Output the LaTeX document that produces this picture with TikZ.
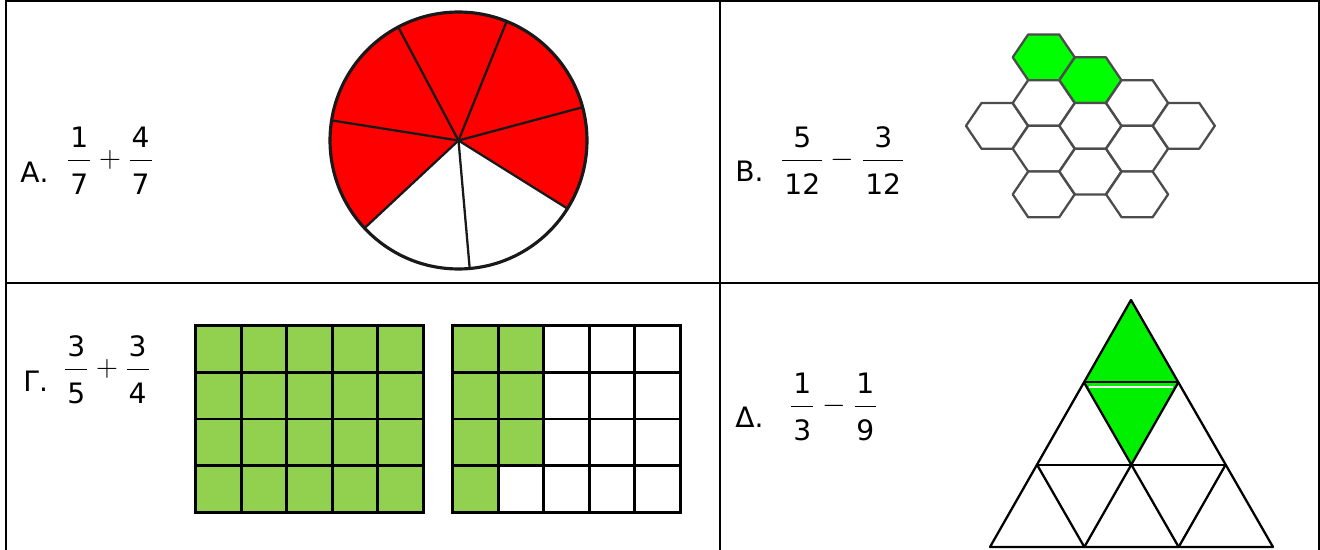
\documentclass[tikz,border=0pt]{standalone}
\usepackage{amsmath}
\usepackage{fontspec}
\setmainfont{DejaVu Sans}
\usetikzlibrary{calc}

% fraction with a thicker bar and a slightly lowered denominator
\newcommand\frc[3][1.1pt]{\genfrac{}{}{1pt}{0}{\hbox{\kern#1#2\kern#1}}{\raisebox{-3.5pt}{\kern#1#3\kern#1}}}

\definecolor{sectorred}{HTML}{FF0000}
\definecolor{hexgreen}{HTML}{00FF00}
\definecolor{squaregreen}{HTML}{92D050}
\definecolor{rhombgreen}{HTML}{00F000}

\begin{document}
\begin{tikzpicture}[
  x=0.02cm, y=-0.02cm,
  font=\fontsize{16}{19}\selectfont,
  itemlabel/.style={inner sep=0pt, anchor=base west},
  expr/.style={inner sep=0pt, anchor=base west},
  cellline/.style={line width=1.2pt, black},
  rimline/.style={line width=1.8pt, black!90},
  rayline/.style={line width=1.3pt, black!90},
  hexline/.style={line width=1.3pt, black!70, line join=round},
  squareline/.style={line width=1.6pt, black, line cap=rect},
  triline/.style={line width=1.3pt, black, line join=round},
]
\useasboundingbox (0,0) rectangle (1320,550);

% ===== Table frame =====
\draw[cellline] (6,550) -- (6,1) -- (1319,1) -- (1319,550);
\draw[cellline] (6,283) -- (1319,283);
\draw[cellline] (720,1) -- (720,550);

% ===== A: pie in sevenths =====
\node[itemlabel] (lbA) at (20,183) {Α.};
\node[expr] (exA) at (66,168) {$\frc{1}{7}+\frc{4}{7}$};

\coordinate (pc) at (458.5,140.5);
\fill[sectorred] (pc) -- ($(pc)+(-32:2.57cm)$) arc[start angle=-32, end angle=223, radius=2.57cm] -- cycle;
\foreach \a in {118,68,15,-32,-85,-137,171}
  \draw[rayline] (pc) -- ($(pc)+(\a:2.57cm)$);
\draw[rimline] (pc) circle[radius=2.57cm];

% ===== B: honeycomb of twelve =====
\node[itemlabel] (lbB) at (735,182) {Β.};
\node[expr] (exB) at (780,168) {$\frc{5}{12}-\frc{3}{12}$};

\foreach \c/\m/\f in {0/3/white, 1/0/hexgreen, 1/2/white, 1/4/white, 1/6/white,
                      2/1/hexgreen, 2/3/white, 2/5/white, 3/2/white, 3/4/white,
                      3/6/white, 4/3/white}
  \draw[hexline, fill=\f] ({997+46.7*\c-31},{57.3+22.85*\m})
    -- ++(15.5,-22.85) -- ++(31,0) -- ++(15.5,22.85)
    -- ++(-15.5,22.85) -- ++(-31,0) -- cycle;

% ===== Γ: two 5x4 grids =====
\node[itemlabel] (lbG) at (23,392) {Γ.};
\node[expr] (exG) at (63,377) {$\frc{3}{5}+\frc{3}{4}$};

\fill[squaregreen] (195.7,325.7) rectangle (423.3,512.3);
\fill[squaregreen] (452.7,325.7) rectangle ++(45.5,186.6);
\fill[squaregreen] (498.2,325.7) rectangle ++(45.5,139.95);
\foreach \gx in {195.7,452.7} {
  \foreach \i in {0,...,5}
    \draw[squareline] ({\gx+45.5*\i},325.7) -- ++(0,186.6);
  \foreach \j in {0,...,4}
    \draw[squareline] (\gx,{325.7+46.65*\j}) -- ++(227.5,0);
}

% ===== Δ: triangle in ninths =====
\node[itemlabel] (lbD) at (735,428) {Δ.};
\node[expr] (exD) at (789,414) {$\frc{1}{3}-\frc{1}{9}$};

\coordinate (tA) at (1131,300);
\coordinate (tL) at (990,547);
\coordinate (tR) at (1273,547);
\coordinate (l1) at ($(tA)!1/3!(tL)$);
\coordinate (r1) at ($(tA)!1/3!(tR)$);
\coordinate (l2) at ($(tA)!2/3!(tL)$);
\coordinate (r2) at ($(tA)!2/3!(tR)$);
\coordinate (m2) at ($(l2)!0.5!(r2)$);
\coordinate (b1) at ($(tL)!1/3!(tR)$);
\coordinate (b2) at ($(tL)!2/3!(tR)$);

\fill[rhombgreen] (tA) -- (l1) -- (m2) -- (r1) -- cycle;
\draw[white, line width=1pt] ($(l1)+(5,4.5)$) -- ($(r1)+(-5,4.5)$);
\draw[triline] (tA) -- (tL) -- (tR) -- cycle;
\draw[triline] (l1) -- (r1);
\draw[triline] (l2) -- (r2);
\draw[triline] (l1) -- (b2);
\draw[triline] (l2) -- (b1);
\draw[triline] (b1) -- (r1);
\draw[triline] (b2) -- (r2);

\end{tikzpicture}
\end{document}
